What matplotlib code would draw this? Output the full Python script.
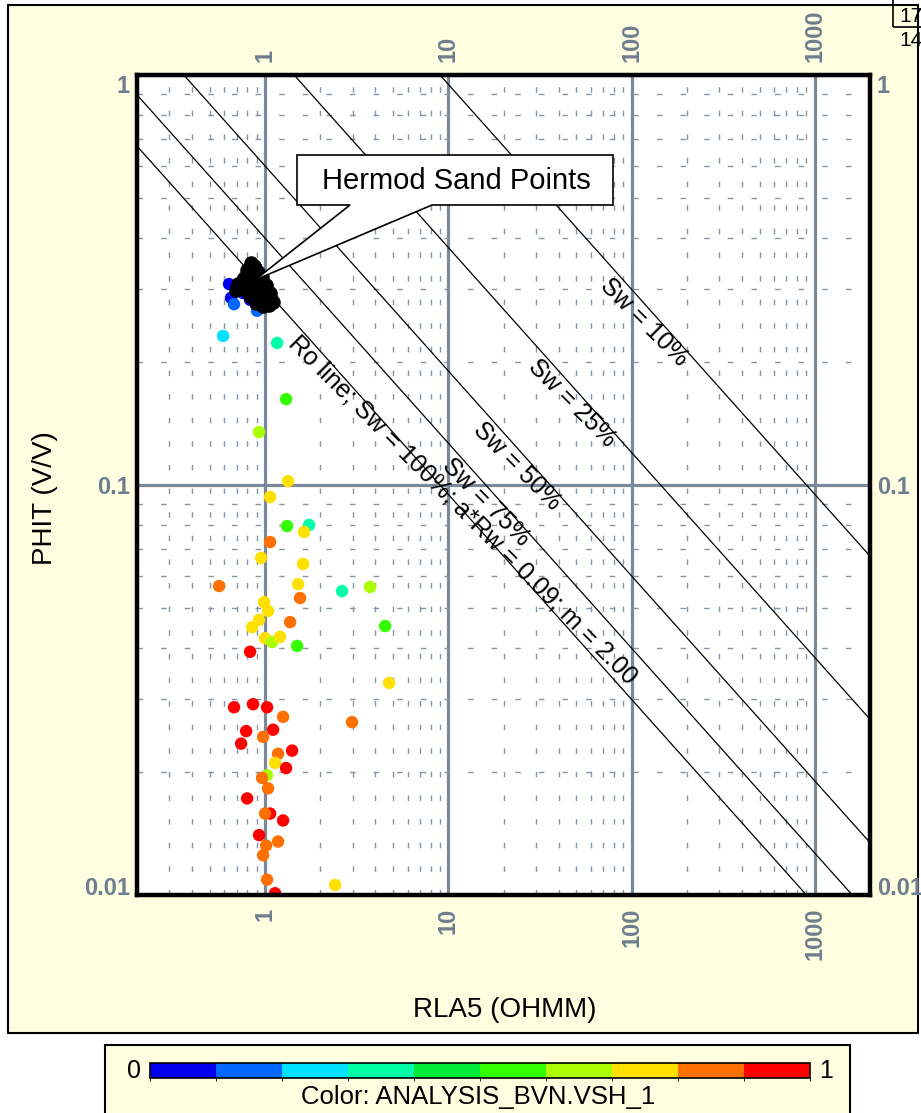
import numpy as np
import matplotlib
matplotlib.use('Agg')
import matplotlib.pyplot as plt
from matplotlib.colors import ListedColormap, BoundaryNorm
from matplotlib.patches import Rectangle, Polygon
from matplotlib.ticker import NullFormatter, FixedLocator, LogLocator
import matplotlib.colorbar as mcolorbar

plt.rcParams['font.family'] = ['Liberation Sans', 'DejaVu Sans']

# ---------------- data ----------------
rla5 = [0.590, 1.163, 1.302, 0.927, 1.335, 1.065, 1.318, 1.738, 1.632, 1.065,
        0.951, 1.612, 0.561, 1.514, 1.552, 2.63, 3.74, 0.987, 1.038, 0.927,
        0.849, 1.369, 4.52, 1.000, 1.092, 1.207, 1.495, 0.828, 4.75, 0.677,
        0.860, 1.025, 1.254, 2.98, 0.788, 1.106, 0.975, 0.740, 1.177, 1.404,
        1.134, 1.302, 1.025, 0.963, 1.038, 0.798, 1.065, 1.000, 1.254, 0.927,
        1.177, 1.013, 0.975, 1.025, 2.41, 1.134,
        0.636, 0.652, 0.677, 0.759, 0.828, 0.904]
phit = [0.231, 0.222, 0.162, 0.1346, 0.1022, 0.0935, 0.0794, 0.0799, 0.0768, 0.0726,
        0.0664, 0.0642, 0.0567, 0.0573, 0.0530, 0.0551, 0.0564, 0.0518, 0.0493, 0.0469,
        0.0450, 0.0463, 0.0453, 0.0423, 0.0414, 0.0426, 0.0405, 0.0392, 0.0329, 0.0287,
        0.0292, 0.0287, 0.0272, 0.0264, 0.0251, 0.0253, 0.0243, 0.0234, 0.0221, 0.0225,
        0.0210, 0.0204, 0.0196, 0.0193, 0.0182, 0.0172, 0.0158, 0.0158, 0.0152, 0.0140,
        0.0135, 0.0132, 0.0125, 0.0109, 0.01058, 0.0101,
        0.309, 0.286, 0.276, 0.294, 0.283, 0.266]
vsh = [0.25, 0.35, 0.55, 0.65, 0.75, 0.75, 0.55, 0.35, 0.75, 0.85,
       0.75, 0.75, 0.85, 0.75, 0.85, 0.35, 0.65, 0.75, 0.75, 0.75,
       0.75, 0.85, 0.55, 0.75, 0.65, 0.75, 0.55, 0.95, 0.75, 0.95,
       0.95, 0.95, 0.85, 0.85, 0.95, 0.95, 0.85, 0.95, 0.85, 0.95,
       0.75, 0.95, 0.65, 0.85, 0.85, 0.95, 0.95, 0.85, 0.95, 0.95,
       0.85, 0.85, 0.85, 0.85, 0.75, 0.95,
       0.05, 0.05, 0.15, 0.05, 0.05, 0.15]

hermod_rla5 = [0.839, 0.798, 0.768, 0.712, 0.860, 0.927, 0.788, 0.860, 0.975, 1.065,
               0.916, 1.000, 1.078, 0.828, 0.893, 0.975, 1.051, 1.106, 0.749, 0.916,
               1.013, 0.808, 0.963, 0.882, 0.818, 0.695, 0.870, 0.940]
hermod_phit = [0.348, 0.334, 0.320, 0.309, 0.323, 0.315, 0.304, 0.302, 0.301, 0.294,
               0.289, 0.283, 0.284, 0.289, 0.278, 0.273, 0.275, 0.279, 0.313, 0.331,
               0.307, 0.296, 0.322, 0.338, 0.315, 0.299, 0.342, 0.292]

a_rw = 0.09
m_exp = 2.0
n_exp = 2.0
sw_values = [1.00, 0.75, 0.50, 0.25, 0.10]
sw_labels = ['Ro line; Sw = 100%; a*Rw = 0.09; m = 2.00',
             'Sw = 75%', 'Sw = 50%', 'Sw = 25%', 'Sw = 10%']

x_ticks = [1, 10, 100, 1000]
x_ticklabels = ['1', '10', '100', '1000']
y_ticks = [0.01, 0.1, 1]
y_ticklabels = ['0.01', '0.1', '1']

cbar_colors = ['#0000ee', '#0068ff', '#00e0ff', '#00ffa6', '#00ea3a',
               '#33ff00', '#aaff00', '#ffe000', '#ff7000', '#ff0000']

# ---------------- figure ----------------
W, H = 921, 1113
fig = plt.figure(figsize=(W / 100, H / 100), dpi=100)
fig.patch.set_facecolor('white')

def fx(px):
    return px / W

def fy(py):
    return 1 - py / H

# outer frame
fig.add_artist(Rectangle((fx(8), fy(1033)), fx(918) - fx(8), fy(5) - fy(1033),
                         transform=fig.transFigure, facecolor='#fffee0',
                         edgecolor='black', lw=1.5, zorder=0))
# colorbar box
fig.add_artist(Rectangle((fx(105), fy(1125)), fx(850) - fx(105), fy(1045) - fy(1125),
                         transform=fig.transFigure, facecolor='#fffee0',
                         edgecolor='black', lw=1.5, zorder=0))

ax = fig.add_axes([fx(137), fy(895), fx(870) - fx(137), fy(75) - fy(895)])
ax.set_facecolor('white')
ax.set_xscale('log')
ax.set_yscale('log')
ax.set_xlim(0.2, 2000)
ax.set_ylim(0.01, 1)

ax.xaxis.set_major_locator(FixedLocator(x_ticks))
ax.set_xticklabels(x_ticklabels)
ax.yaxis.set_major_locator(FixedLocator(y_ticks))
ax.set_yticklabels(y_ticklabels)
ax.xaxis.set_minor_locator(LogLocator(base=10, subs=np.arange(2, 10)))
ax.yaxis.set_minor_locator(LogLocator(base=10, subs=np.arange(2, 10)))
ax.xaxis.set_minor_formatter(NullFormatter())
ax.yaxis.set_minor_formatter(NullFormatter())

lab_col = '#6e7e8e'
ax.tick_params(which='both', length=0)
ax.tick_params(axis='x', which='major', labeltop=True, labelbottom=True,
               labelrotation=90, labelsize=17, labelcolor=lab_col, pad=9)
ax.tick_params(axis='y', which='major', labelleft=True, labelright=True,
               labelsize=17, labelcolor=lab_col, pad=5)
for tk in ax.xaxis.get_major_ticks():
    tk.label1.set_fontweight('bold')
    tk.label2.set_fontweight('bold')
yt = ax.yaxis.get_major_ticks()
for tk in yt:
    tk.label1.set_fontweight('bold')
    tk.label2.set_fontweight('bold')
# bottom label sits just above its line, top label just below it
yt[0].label1.set_verticalalignment('baseline')
yt[0].label2.set_verticalalignment('baseline')
yt[-1].label1.set_verticalalignment('top')
yt[-1].label2.set_verticalalignment('top')

ax.grid(which='major', color='#7a8898', lw=2.3, zorder=1)
ax.grid(which='minor', color='#8694a4', lw=1.0, linestyle=(0, (4, 13)), zorder=1)
ax.set_axisbelow(True)
for s in ax.spines.values():
    s.set_linewidth(3.2)
    s.set_color('black')
    s.set_zorder(10)

# Archie lines
phi_line = np.logspace(-2.5, 0.3, 200)
for sw in sw_values:
    rt = a_rw / (phi_line ** m_exp * sw ** n_exp)
    ax.plot(rt, phi_line, color='black', lw=0.9, zorder=3)

label_pos = [(12.0, 0.0869), (16.1, 0.0909), (23.7, 0.111), (47.3, 0.158), (117, 0.25)]
for txt, (lx, ly) in zip(sw_labels, label_pos):
    ax.text(lx, ly, txt, rotation=-45, rotation_mode='anchor', ha='center',
            va='center', fontsize=18, color='black', zorder=4)

cmap = ListedColormap(cbar_colors)
norm = BoundaryNorm(np.linspace(0, 1, 11), cmap.N)

ax.scatter(rla5, phit, c=vsh, cmap=cmap, norm=norm, s=80, linewidths=0, zorder=5)
ax.scatter(hermod_rla5, hermod_phit, color='black', s=110, linewidths=0, zorder=6)

# callout
poly_px = [(297, 155), (613, 155), (613, 205), (432, 205), (255, 280), (350, 205), (297, 205)]
fig.add_artist(Polygon([(fx(x), fy(y)) for x, y in poly_px], closed=True,
                       transform=fig.transFigure, facecolor='white',
                       edgecolor='black', lw=1.2, zorder=20))
fig.text(fx(456), fy(181), 'Hermod Sand Points', ha='center', va='center',
         fontsize=21, zorder=21)

# axis titles
fig.text(fx(45), fy(498), 'PHIT (V/V)', rotation=90, ha='center', va='center', fontsize=20)
fig.text(fx(505), fy(1010), 'RLA5 (OHMM)', ha='center', va='center', fontsize=20)

# corner artefacts
fig.add_artist(Rectangle((fx(893), fy(27)), fx(940) - fx(893), fy(-5) - fy(27),
                         transform=fig.transFigure, facecolor='none',
                         edgecolor='black', lw=1.2, zorder=5))
fig.text(fx(899), fy(17), '17', ha='left', va='center', fontsize=15)
fig.text(fx(899), fy(40), '14', ha='left', va='center', fontsize=15)

# colorbar
cax = fig.add_axes([fx(150), fy(1078), fx(810) - fx(150), fy(1063) - fy(1078)])
cb = mcolorbar.ColorbarBase(cax, cmap=cmap, norm=norm, orientation='horizontal')
cb.set_ticks([])
cb.outline.set_linewidth(1.2)
fig.text(fx(134), fy(1071), '0', ha='center', va='center', fontsize=18)
fig.text(fx(826), fy(1071), '1', ha='center', va='center', fontsize=18)
fig.text(fx(478), fy(1097), 'Color: ANALYSIS_BVN.VSH_1', ha='center', va='center', fontsize=18.5)

fig.savefig('out.png', dpi=100, facecolor='white')
